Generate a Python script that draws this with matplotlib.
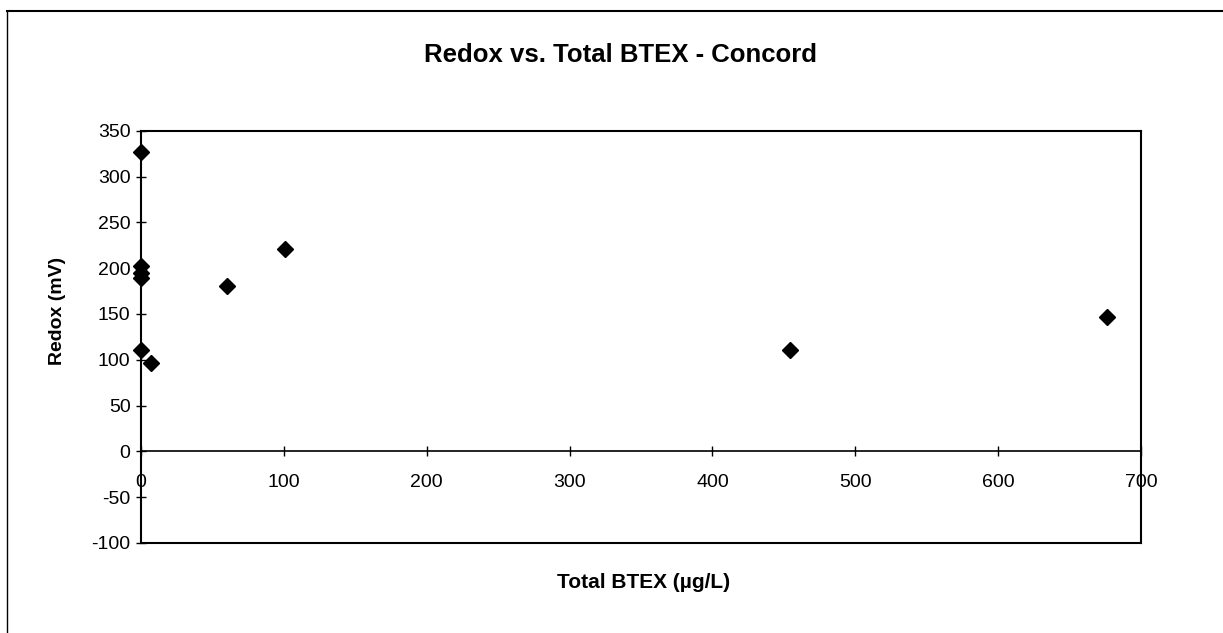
import matplotlib.pyplot as plt
from matplotlib.lines import Line2D

# Datos
btex = [0, 0, 0, 0, 0, 7, 60, 101, 454, 676]
redox = [327, 202, 195, 189, 111, 96, 181, 221, 111, 147]

x_ticks = [0, 100, 200, 300, 400, 500, 600, 700]
y_ticks = [-100, -50, 0, 50, 100, 150, 200, 250, 300, 350]

plt.rcParams['font.family'] = ['Liberation Sans', 'DejaVu Sans']
plt.rcParams['axes.unicode_minus'] = False

fig = plt.figure(figsize=(12.23, 6.33), dpi=100)
ax = fig.add_axes([0.1153, 0.1422, 0.8177, 0.6513])

ax.plot(btex, redox, linestyle='none', marker='D', markersize=8,
        color='black', clip_on=False, zorder=5)

ax.set_xlim(0, 700)
ax.set_ylim(-100, 350)
ax.set_xticks(x_ticks)
ax.set_yticks(y_ticks)

# eje x cruzando en cero, marco completo
ax.spines['bottom'].set_position(('data', 0))
ax.spines['bottom'].set_linewidth(1.2)
for s in ['left', 'right', 'top']:
    ax.spines[s].set_linewidth(1.5)
ax.plot([0, 1], [0, 0], transform=ax.transAxes, color='black', lw=1.5, clip_on=False)

ax.tick_params(axis='both', direction='inout', length=7, width=1, labelsize=14)
ax.tick_params(axis='x', pad=13)
ax.tick_params(axis='y', pad=4)

fig.text(0.507, 1 - 55/633, 'Redox vs. Total BTEX - Concord', ha='center', va='center',
         fontsize=18.5, fontweight='bold')
fig.text(57/1223, 1 - 311/633, 'Redox (mV)', ha='center', va='center', rotation=90,
         fontsize=14, fontweight='bold')
fig.text(0.526, 1 - 582/633, 'Total BTEX (µg/L)', ha='center', va='center',
         fontsize=15, fontweight='bold')

# borde del área del gráfico
fig.add_artist(Line2D([7/1223, 1.0], [1 - 11/633, 1 - 11/633],
                      transform=fig.transFigure, color='black', lw=1.5))
fig.add_artist(Line2D([7/1223, 7/1223], [0, 1 - 11/633],
                      transform=fig.transFigure, color='black', lw=1))

fig.savefig('out.png', dpi=100)
